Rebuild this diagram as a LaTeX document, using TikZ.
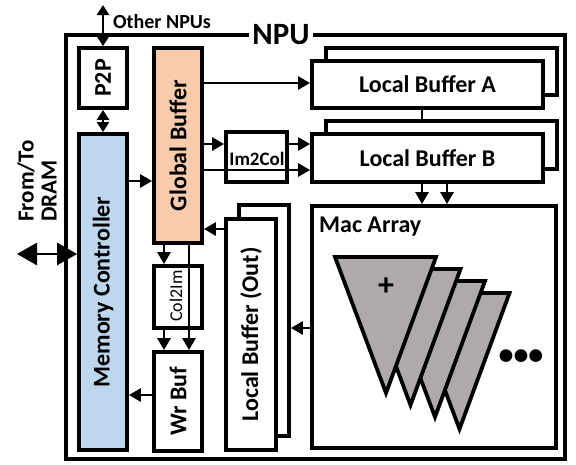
\documentclass[tikz,border=0pt]{standalone}
\usepackage{fontspec}
\setmainfont{Carlito}
\usetikzlibrary{arrows.meta, positioning, calc}
\definecolor{gbfill}{RGB}{248,203,173}
\definecolor{mcfill}{RGB}{189,215,238}
\definecolor{macgray}{RGB}{174,170,170}

\begin{document}
\begin{tikzpicture}[x=1pt, y=-1pt, line join=miter,
  blk/.style={draw, line width=3.8pt, fill=white, inner sep=0pt},
  vtxt/.style={rotate=90, font=\bfseries\fontsize{24}{26}\selectfont},
  htxt/.style={font=\bfseries\fontsize{24}{26}\selectfont},
  conn/.style={line width=2.8pt, -{Triangle[length=12pt,width=13pt]}},
  biconn/.style={line width=2.8pt, {Triangle[length=10pt,width=12pt]}-{Triangle[length=10pt,width=12pt]}}]
  \useasboundingbox (0,0) rectangle (576,464);

  % NPU frame
  \draw[line width=3.8pt] (66,35) rectangle (565,459);
  \node[fill=white, inner sep=3pt, font=\bfseries\fontsize{31}{33}\selectfont] (npu) at (281,35) {NPU};
  \node[anchor=base west, inner sep=0pt, font=\bfseries\fontsize{20}{22}\selectfont] (others) at (113,28) {Other NPUs};
  \node[rotate=90, anchor=west, align=left, inner sep=0pt, font=\bfseries\fontsize{23}{23}\selectfont] (dram) at (37,222) {From/To\\DRAM};
  \coordinate (otop) at (103,5);
  \coordinate (dleft) at (17,254);

  % left column
  \node[blk, minimum width=48pt, minimum height=60pt] (p2p) at (103,78) {};
  \node[vtxt] at (p2p) {P2P};
  \node[blk, fill=mcfill, minimum width=48pt, minimum height=316pt] (memctrl) at (103,292) {};
  \node[vtxt] at (memctrl) {Memory Controller};

  % global buffer column
  \node[blk, fill=gbfill, minimum width=48pt, minimum height=195pt] (gbuf) at (178,145.5) {};
  \node[vtxt] at (gbuf) {Global Buffer};
  \node[blk, minimum width=48pt, minimum height=62pt] (col2im) at (178,297) {};
  \node[rotate=90, font=\fontsize{18}{20}\selectfont] at (176,296) {Col2Im};
  \node[blk, minimum width=48pt, minimum height=99pt] (wrbuf) at (178,401.5) {};
  \node[vtxt] at (wrbuf) {Wr Buf};

  % im2col
  \node[blk, minimum width=61pt, minimum height=50pt] (im2col) at (256.5,157) {};
  \node[font=\bfseries\fontsize{19}{21}\selectfont] at (257,158.5) {Im2Col};

  % local buffers
  \node[blk, minimum width=231pt, minimum height=47pt] (lbaback) at (441.5,71.5) {};
  \node[blk, minimum width=231pt, minimum height=47pt] (lba) at (427.5,84.5) {};
  \node[htxt] at (lba) {Local Buffer A};
  \node[blk, minimum width=231pt, minimum height=48pt] (lbbback) at (441.5,145) {};
  \node[blk, minimum width=231pt, minimum height=48pt] (lbb) at (427.5,158) {};
  \node[htxt] at (lbb) {Local Buffer B};
  \node[blk, minimum width=50pt, minimum height=231pt] (lboback) at (264,320.5) {};
  \node[blk, minimum width=50pt, minimum height=231pt] (lbo) at (251,334.5) {};
  \node[vtxt] at (lbo) {Local Buffer (Out)};

  % mac array
  \node[blk, minimum width=244pt, minimum height=242pt] (mac) at (434,327) {};
  \node[htxt, anchor=base west, inner sep=0pt] at (319,232) {Mac Array};
  \foreach \k in {3,2,1,0}
    \draw[line width=3.8pt, fill=macgray, shift={(24.5*\k,12*\k)}] (335,257) -- (436,257) -- (386,393) -- cycle;
  \node[font=\bfseries\fontsize{32}{34}\selectfont] at (386,287) {+};
  \node[font=\bfseries\fontsize{30}{32}\selectfont] at (521,357) {\textbullet\textbullet\textbullet};

  % connectors
  \draw[biconn] (otop) -- (p2p.north);
  \draw[biconn] (p2p.south) -- (memctrl.north);
  \draw[line width=2.8pt, {Triangle[length=20pt,width=22pt]}-{Triangle[length=20pt,width=22pt]}] (dleft) -- (memctrl.west |- dleft);
  \draw[conn] (memctrl.east |- 0,181) -- (gbuf.west |- 0,181);
  \draw[conn] (gbuf.east |- 0,83) -- (lba.west |- 0,83);
  \draw[conn] (gbuf.east |- 0,144) -- (im2col.west |- 0,144);
  \draw[conn] (im2col.east |- 0,144) -- (lbb.west |- 0,144);
  \draw[conn] (gbuf.east |- 0,170) -- (lbb.west |- 0,170);
  \draw[line width=2.8pt] (422,0 |- lba.south) -- (422,0 |- lbbback.north);
  \draw[conn] (422,0 |- lbb.south) -- (422,0 |- mac.north);
  \draw[conn] (447,0 |- lbb.south) -- (447,0 |- mac.north);
  \draw[conn] (mac.west |- 0,328) -- (lboback.east |- 0,328);
  \draw[conn] (lbo.west |- 0,229) -- (gbuf.east |- 0,229);
  \draw[conn] (164,0 |- gbuf.south) -- (164,0 |- col2im.north);
  \draw[conn] (164,0 |- col2im.south) -- (164,0 |- wrbuf.north);
  \draw[conn] (189,0 |- gbuf.south) -- (189,0 |- wrbuf.north);
  \draw[conn] (wrbuf.west |- 0,395) -- (memctrl.east |- 0,395);
\end{tikzpicture}
\end{document}
